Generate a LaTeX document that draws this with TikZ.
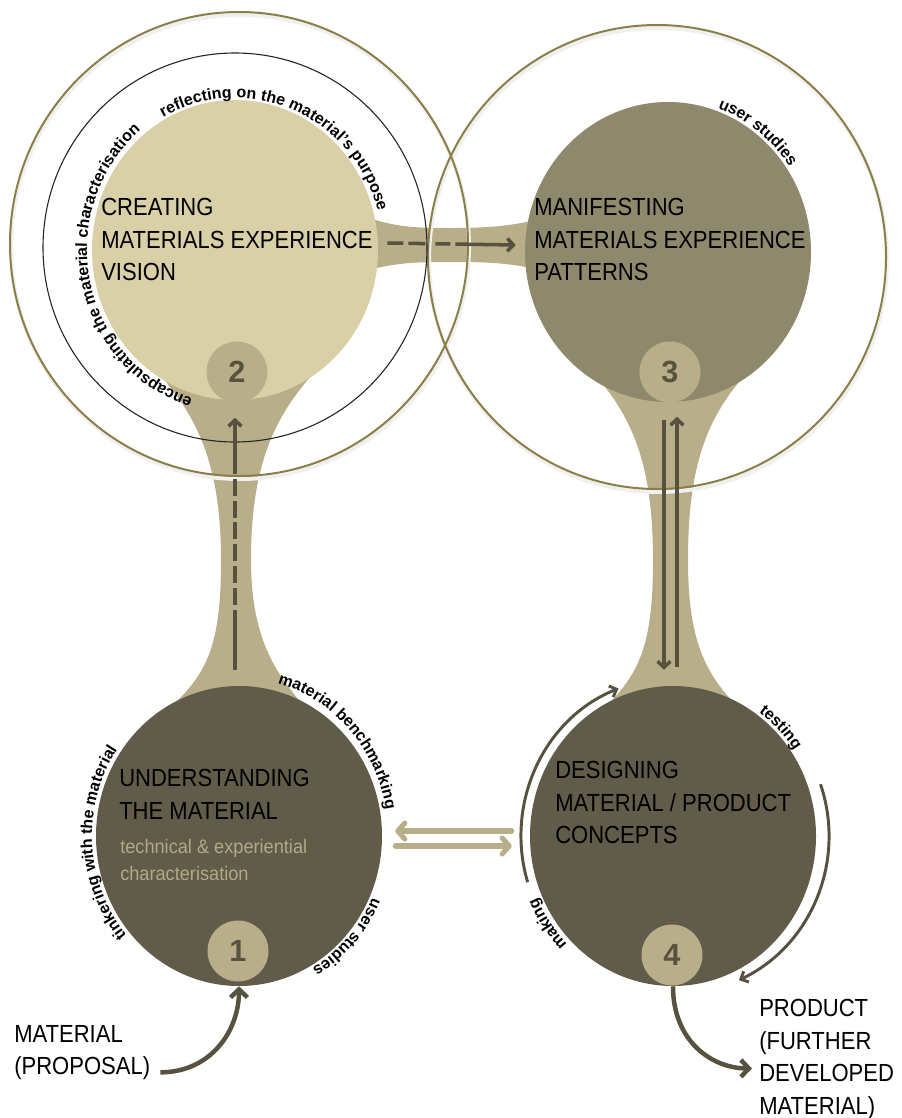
\documentclass[tikz,border=0pt]{standalone}
\usepackage{fontspec}
\setmainfont{Liberation Sans}
\newfontfamily\labelfont[FakeStretch=0.89]{Liberation Sans}
\newfontfamily\subfont[FakeStretch=0.93]{Liberation Sans}
\usepackage{xcolor}
\usetikzlibrary{arrows.meta, calc, positioning, shapes.geometric, decorations.text}

\newlength{\pxu}
\setlength{\pxu}{0.025cm}

\definecolor{darkdisc}{HTML}{615B49}
\definecolor{middisc}{HTML}{8E886C}
\definecolor{lightdisc}{HTML}{D9D0A8}
\definecolor{stemtan}{HTML}{B8AE8A}
\definecolor{darkline}{HTML}{57523F}
\definecolor{ringolive}{HTML}{8B7F47}
\definecolor{subtext}{HTML}{B2A986}
\definecolor{numtext}{HTML}{58533F}

\newcommand\curvefont{\fontsize{11.4}{12}\selectfont\bfseries}
% point on an ellipse round a disc (y axis points down)
\newcommand\onrim[4]{($(#1)+({#3*cos(#2)},{-#4*sin(#2)})$)}

\tikzset{
  bigdisc/.style={ellipse, inner sep=0pt, minimum width=286\pxu, minimum height=300\pxu},
  numdot/.style={circle, fill=stemtan, inner sep=0pt, minimum size=61\pxu, text=numtext,
    font=\fontsize{21.8}{22}\selectfont\bfseries},
  phase/.style={anchor=north west, inner sep=0pt, align=left,
    font=\labelfont\fontsize{17.6}{23.2}\selectfont},
  subline/.style={anchor=north west, inner sep=0pt, align=left, text=subtext,
    font=\subfont\fontsize{13.9}{19.2}\selectfont},
  ringline/.style={draw=ringolive, line width=2\pxu},
  ringshadow/.style={draw=black!6, line width=4\pxu},
  innerring/.style={draw=black!85, line width=1.1\pxu},
  darkarrow/.style={draw=darkline, line width=2.5pt, -{Straight Barb[length=4.3pt, width=9.2pt]}},
  cyclearrow/.style={draw=darkline, line width=2.1pt, -{Straight Barb[length=4.3pt, width=8.5pt]}},
  flowarrow/.style={draw=darkline, line width=3.2pt, -{Straight Barb[length=5.7pt, width=12pt]}},
  tanarrow/.style={draw=stemtan, line width=3.6pt, line cap=round,
    -{Straight Barb[length=5pt, width=11.4pt, round]}},
  curvetext/.style={decorate, decoration={text along path, text align=center, text={|\curvefont|#1}}}
}

\begin{document}
\begin{tikzpicture}[x=0.025cm, y=-0.025cm]
\useasboundingbox (0,0) rectangle (901,1118);

% necks between the discs
\fill[stemtan] (160,375) .. controls (200,420) and (221,470) .. (221,560)
  .. controls (221,645) and (208,675) .. (165,712) -- (315,718)
  .. controls (280,680) and (251,645) .. (251,560)
  .. controls (251,470) and (272,420) .. (312,375) -- cycle;
\fill[stemtan] (595,375) .. controls (635,420) and (653,470) .. (653,560)
  .. controls (653,645) and (640,675) .. (600,712) -- (750,718)
  .. controls (707,680) and (688,645) .. (688,560)
  .. controls (688,470) and (705,420) .. (745,375) -- cycle;
\fill[stemtan] (360,215) .. controls (395,227) and (410,228) .. (450,228)
  .. controls (490,228) and (510,226) .. (540,219) -- (540,270)
  .. controls (510,263) and (490,262) .. (450,262)
  .. controls (410,262) and (395,263) .. (360,272) -- cycle;

% discs
\node[bigdisc, fill=lightdisc] (c2) at (235,250) {};
\node[bigdisc, fill=middisc] (c3) at (668,252) {};
\node[bigdisc, fill=darkdisc] (c1) at (239,836) {};
\node[bigdisc, fill=darkdisc] (c4) at (673,836) {};

\node[numdot] (n1) at (238,951) {1};
\node[numdot] (n2) at (237,372) {2};
\node[numdot] (n3) at (670,372) {3};
\node[numdot] (n4) at (672,955) {4};

% rings
\draw[ringshadow] (240,247) ellipse [x radius=229\pxu, y radius=232\pxu];
\draw[ringshadow] (658,260) ellipse [x radius=229\pxu, y radius=232\pxu];
\draw[ringline] (239,244) ellipse [x radius=229\pxu, y radius=232\pxu];
\draw[ringline] (657,257) ellipse [x radius=229\pxu, y radius=232\pxu];
\draw[innerring] (235,247.5) ellipse [x radius=192\pxu, y radius=194.5\pxu];

% connectors
\draw[darkarrow, dash pattern=on 11.4pt off 3.6pt on 12.1pt off 7.1pt on 10.7pt off 3.6pt on 80pt off 0pt]
  ([xshift=9\pxu, yshift=7\pxu]c2.east) -- ([xshift=-9\pxu, yshift=7\pxu]c3.west);
\draw[darkarrow, dash pattern=on 42.7pt off 3.5pt on 12pt off 3.5pt on 12pt off 3.5pt on 12pt off 3.5pt on 12pt off 3.5pt on 12pt off 3.5pt on 12pt off 3.5pt on 80pt off 0pt]
  ([xshift=-4\pxu, yshift=16\pxu]c1.north) -- ([xshift=-2\pxu, yshift=-15\pxu]n2.south);
\draw[darkarrow] ([xshift=-6\pxu, yshift=-17\pxu]n3.south) -- ([xshift=-9\pxu, yshift=16\pxu]c4.north);
\draw[darkarrow] ([xshift=4\pxu, yshift=19\pxu]c4.north) -- ([xshift=7\pxu, yshift=-14\pxu]n3.south);
\draw[tanarrow] ([xshift=-18\pxu, yshift=5\pxu]c4.west) -- ([xshift=13\pxu, yshift=5\pxu]c1.east);
\draw[tanarrow] ([xshift=13\pxu, yshift=-10\pxu]c1.east) -- ([xshift=-18\pxu, yshift=-10\pxu]c4.west);
\draw[cyclearrow] \onrim{c4.center}{197}{152}{158}
  arc[start angle=197, end angle=111, x radius=152\pxu, y radius=158\pxu];
\draw[cyclearrow] \onrim{c4.center}{19}{156}{159}
  arc[start angle=19, end angle=-65, x radius=156\pxu, y radius=159\pxu];

% labels
\node[phase] (lab2) at (101,198) {CREATING\\MATERIALS EXPERIENCE\\VISION};
\node[phase] (lab3) at (534,198) {MANIFESTING\\MATERIALS EXPERIENCE\\PATTERNS};
\node[phase] (lab1) at (119,769) {UNDERSTANDING\\THE MATERIAL};
\node[subline] (sub1) at (120,839) {technical \& experiential\\characterisation};
\node[phase] (lab4) at (555,761) {DESIGNING\\MATERIAL / PRODUCT\\CONCEPTS};
\node[phase] (matprop) at (14,1025) {MATERIAL\\(PROPOSAL)};
\node[phase] (product) at (759,999) {PRODUCT\\(FURTHER\\DEVELOPED\\MATERIAL)};

\draw[flowarrow] ([xshift=10\pxu, yshift=8\pxu]matprop.south east)
  .. controls +(50,0) and +(0,45) .. (c1.south);
\draw[flowarrow] (c4.south)
  .. controls +(0,55) and +(-40,0) .. ([xshift=-7\pxu, yshift=-9\pxu]product.west);

% texts round the discs
\path[curvetext={reflecting on the material's purpose}]
  \onrim{c2.center}{127}{148}{152} arc[start angle=127, end angle=7, x radius=148\pxu, y radius=152\pxu];
\path[curvetext={encapsulating the material characterisation}]
  \onrim{c2.center}{262}{148}{155} arc[start angle=262, end angle=121, x radius=148\pxu, y radius=155\pxu];
\path[curvetext={user studies}]
  \onrim{c3.center}{77}{146}{153} arc[start angle=77, end angle=27, x radius=146\pxu, y radius=153\pxu];
\path[curvetext={material benchmarking}]
  \onrim{c1.center}{83}{149}{158} arc[start angle=83, end angle=2, x radius=149\pxu, y radius=158\pxu];
\path[curvetext={user studies}]
  \onrim{c1.center}{-17}{146}{153} arc[start angle=-17, end angle=-67, x radius=146\pxu, y radius=153\pxu];
\path[curvetext={tinkering with the material}]
  \onrim{c1.center}{228}{147}{154} arc[start angle=228, end angle=138, x radius=147\pxu, y radius=154\pxu];
\path[curvetext={testing}]
  \onrim{c4.center}{62}{146}{153} arc[start angle=62, end angle=26, x radius=146\pxu, y radius=153\pxu];
\path[curvetext={making}]
  \onrim{c4.center}{232}{148}{155} arc[start angle=232, end angle=196, x radius=148\pxu, y radius=155\pxu];
\end{tikzpicture}
\end{document}
